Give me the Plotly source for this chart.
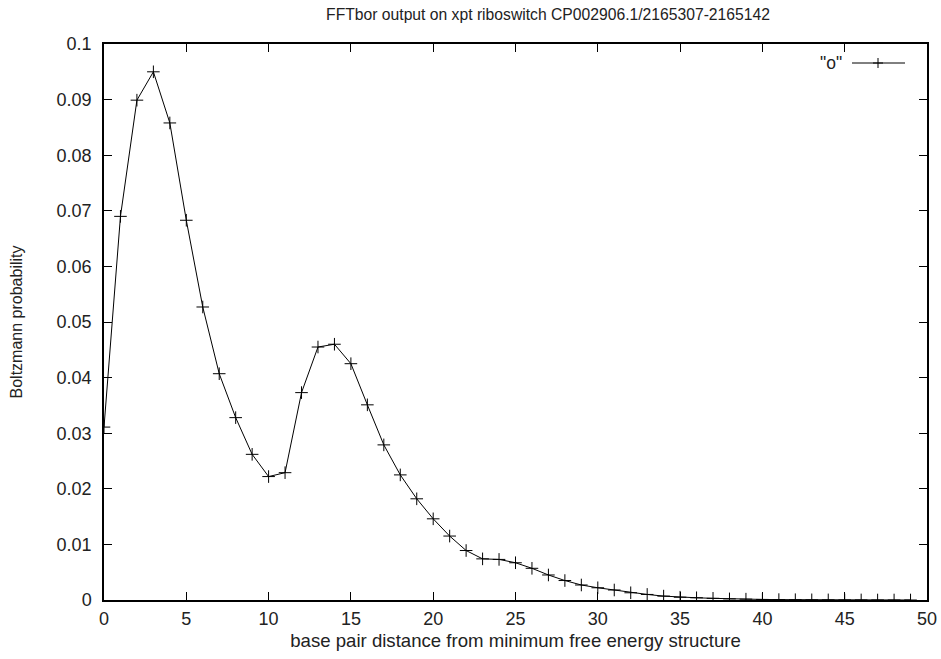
import plotly.graph_objects as go

distance = list(range(0, 50))
probability = [
    0.0311, 0.0690, 0.0899, 0.0950, 0.0858, 0.0683, 0.0527, 0.0407, 0.0328, 0.0262,
    0.0222, 0.0229, 0.0373, 0.0455, 0.0460, 0.0425, 0.0351, 0.0279, 0.0225, 0.0182,
    0.0146, 0.0115, 0.0089, 0.0074, 0.0073, 0.0067, 0.0057, 0.0045, 0.0035, 0.0027,
    0.0022, 0.0018, 0.0013, 0.0010, 0.0007, 0.0005, 0.0004, 0.0003, 0.0002, 0.00015,
    0.0001, 0.00007, 0.00005, 0.00003, 0.00002, 0.00001, 0.00001, 0.0, 0.0, 0.0,
]
x_ticks = [0, 5, 10, 15, 20, 25, 30, 35, 40, 45, 50]
y_ticks = [0, 0.01, 0.02, 0.03, 0.04, 0.05, 0.06, 0.07, 0.08, 0.09, 0.1]
y_tick_labels = ["0", "0.01", "0.02", "0.03", "0.04", "0.05", "0.06", "0.07", "0.08", "0.09", "0.1"]

FONT = "Liberation Sans, Arial, Helvetica, sans-serif"
TXT = "#222"

fig = go.Figure()
fig.add_trace(go.Scatter(
    x=distance, y=probability, mode="lines+markers", name='"o"',
    line=dict(color="black", width=1),
    marker=dict(symbol="cross-thin", size=9, line=dict(color="black", width=1), color="black"),
    showlegend=False,
))

axis_common = dict(
    showgrid=False, zeroline=False, showline=True, linecolor="black", linewidth=1.5,
    mirror="ticks", ticks="inside", ticklen=8, tickwidth=1, tickcolor="black",
    tickfont=dict(family=FONT, size=18, color=TXT), automargin=False,
)
fig.update_xaxes(range=[0, 50], tickvals=x_ticks, **axis_common, ticklabelstandoff=2,
                 title=dict(text="base pair distance from minimum free energy structure",
                            font=dict(family=FONT, size=18.6, color=TXT), standoff=6))
fig.update_yaxes(range=[0, 0.1], tickvals=y_ticks, ticktext=y_tick_labels, **axis_common,
                 ticklabelstandoff=7,
                 title=dict(text="Boltzmann probability",
                            font=dict(family=FONT, size=16, color=TXT), standoff=30))

# legend drawn gnuplot-style: text then sample
lx0, lx1, lxm, ly = (852 - 104) / 823, (905 - 104) / 823, (878 - 104) / 823, (600 - 63) / 556
fig.add_annotation(x=(844 - 104) / 823, y=ly, xref="paper", yref="paper", text='"o"',
                   showarrow=False, xanchor="right", yanchor="middle",
                   font=dict(family=FONT, size=17.5, color=TXT))
fig.add_shape(type="line", xref="paper", yref="paper", x0=lx0, x1=lx1, y0=ly, y1=ly,
              line=dict(color="black", width=1))
fig.add_shape(type="line", xref="paper", yref="paper", x0=lxm - 5 / 823, x1=lxm + 5 / 823,
              y0=ly, y1=ly, line=dict(color="black", width=1))
fig.add_shape(type="line", xref="paper", yref="paper", x0=lxm, x1=lxm,
              y0=ly - 5 / 556, y1=ly + 5 / 556, line=dict(color="black", width=1))

fig.update_layout(
    width=941, height=659,
    margin=dict(l=104, r=14, t=44, b=59, autoexpand=False),
    paper_bgcolor="white", plot_bgcolor="white",
    title=dict(text="FFTbor output on xpt riboswitch CP002906.1/2165307-2165142",
               x=548 / 941, xanchor="center", y=1 - 15 / 659, yanchor="middle",
               font=dict(family=FONT, size=15.7, color=TXT)),
    font=dict(family=FONT),
)
fig.write_html("out.html", config={"displayModeBar": False},
               post_script="document.body.style.margin='0';document.body.style.overflow='hidden';")
